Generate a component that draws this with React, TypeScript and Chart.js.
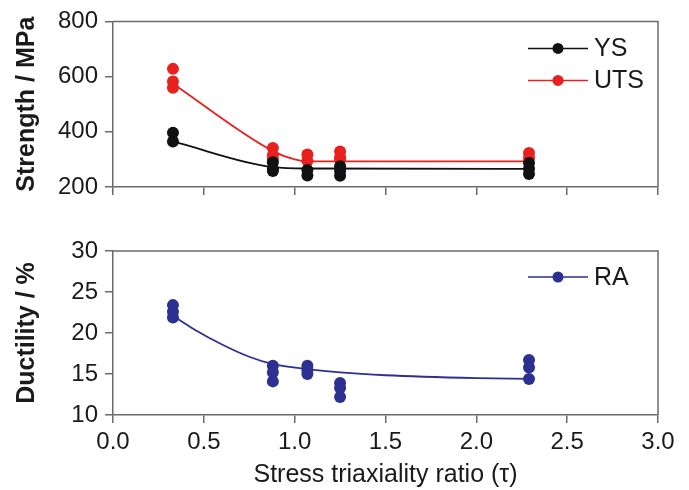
import React, { useEffect, useRef } from "react";
import { Chart, registerables } from "chart.js";

Chart.register(...registerables);

// ---- data ----
const tauGroups = [0.33, 0.88, 1.07, 1.25, 2.29];
const ysValues = [
  [397, 365],
  [290, 265, 258],
  [262, 242],
  [275, 258, 241],
  [287, 266, 247],
];
const utsValues = [
  [628, 582, 560],
  [341, 315, 300],
  [318, 294],
  [329, 308, 300],
  [323, 305],
];
const raValues = [
  [23.4, 22.6, 21.9],
  [16.0, 15.2, 14.1],
  [16.0, 15.5, 15.0],
  [13.9, 13.3, 12.2],
  [16.7, 15.8, 14.4],
];
const ysFitX = [0.33, 0.88, 1.07, 2.29];
const ysFitY = [365, 272, 267, 266];
const utsFitX = [0.33, 0.88, 1.0, 1.07, 2.29];
const utsFitY = [574, 330, 300, 293, 293];
const raFitX = [0.33, 0.45, 0.6, 0.75, 0.88, 1.07, 1.25, 1.5, 2.0, 2.29];
const raFitY = [22.1, 20.4, 18.6, 17.1, 16.2, 15.6, 15.2, 14.85, 14.5, 14.4];
const xTicks = [0, 0.5, 1.0, 1.5, 2.0, 2.5, 3.0];
const strengthTicks = [200, 400, 600, 800];
const ductilityTicks = [10, 15, 20, 25, 30];

const FONT = "'Liberation Sans', Arial, sans-serif";
const AXIS = "#6a6a6a";
const TEXT = "#1a1a1a";
const BLACK = "#111111";
const RED = "#e8211f";
const BLUE = "#2c3091";

function groupPoints(xs: number[], vals: number[][]) {
  const pts: { x: number; y: number }[] = [];
  xs.forEach((x, i) => vals[i].forEach((y) => pts.push({ x, y })));
  return pts;
}
function pairs(xs: number[], ys: number[]) {
  return xs.map((x, i) => ({ x, y: ys[i] }));
}

const framePlugin = {
  id: "frame",
  afterDraw(chart: any) {
    const { ctx, chartArea: a } = chart;
    ctx.save();
    ctx.strokeStyle = AXIS;
    ctx.lineWidth = 1.5;
    ctx.beginPath();
    ctx.moveTo(a.left, a.top);
    ctx.lineTo(a.right, a.top);
    ctx.lineTo(a.right, a.bottom);
    ctx.stroke();
    ctx.restore();
  },
};

function legendPlugin(items: { label: string; color: string }[], dy: number) {
  return {
    id: "customLegend",
    afterDraw(chart: any) {
      const { ctx, chartArea: a } = chart;
      ctx.save();
      items.forEach((it, i) => {
        const y = a.top + dy + i * 32;
        const x0 = a.right - 130;
        ctx.strokeStyle = it.color;
        ctx.lineWidth = 1.5;
        ctx.beginPath();
        ctx.moveTo(x0, y);
        ctx.lineTo(x0 + 60, y);
        ctx.stroke();
        ctx.fillStyle = it.color;
        ctx.beginPath();
        ctx.arc(x0 + 30, y, 5.5, 0, Math.PI * 2);
        ctx.fill();
        ctx.fillStyle = TEXT;
        ctx.font = `25px ${FONT}`;
        ctx.textBaseline = "middle";
        ctx.textAlign = "left";
        ctx.fillText(it.label, x0 + 66, y + 1);
      });
      ctx.restore();
    },
  };
}

function xScale(showLabels: boolean, height: number) {
  return {
    type: "linear",
    min: 0,
    max: 3,
    afterBuildTicks: (s: any) => {
      s.ticks = xTicks.map((v) => ({ value: v }));
    },
    ticks: {
      callback: (v: any) => (showLabels ? Number(v).toFixed(1) : ""),
      font: { family: FONT, size: 24 },
      color: TEXT,
      padding: 5,
      maxRotation: 0,
      autoSkip: false,
    },
    grid: { drawOnChartArea: false, drawTicks: true, tickLength: 8, color: AXIS, lineWidth: 1.5 },
    border: { display: true, color: AXIS, width: 1.5 },
    title: showLabels
      ? {
          display: true,
          text: "Stress triaxiality ratio (τ)",
          font: { family: FONT, size: 25 },
          color: TEXT,
          padding: { top: 0, bottom: 0 },
        }
      : { display: false },
    afterFit: (s: any) => {
      s.height = height;
    },
  };
}

function yScale(min: number, max: number, ticks: number[], title: string) {
  return {
    type: "linear",
    min,
    max,
    afterBuildTicks: (s: any) => {
      s.ticks = ticks.map((v) => ({ value: v }));
    },
    ticks: {
      font: { family: FONT, size: 24 },
      color: TEXT,
      padding: 7,
    },
    grid: { drawOnChartArea: false, drawTicks: true, tickLength: 8, color: AXIS, lineWidth: 1.5 },
    border: { display: true, color: AXIS, width: 1.5 },
    title: {
      display: true,
      text: title,
      font: { family: FONT, size: 25, weight: "bold" },
      color: TEXT,
      padding: { top: 12, bottom: 0 },
    },
    afterFit: (s: any) => {
      s.width = 113;
    },
  };
}

function scatterDs(label: string, data: any[], color: string) {
  return {
    type: "scatter",
    label,
    data,
    showLine: false,
    pointRadius: 6,
    pointBackgroundColor: color,
    pointBorderColor: color,
    pointBorderWidth: 0,
  };
}
function lineDs(label: string, data: any[], color: string) {
  return {
    type: "line",
    label,
    data,
    borderColor: color,
    borderWidth: 1.8,
    pointRadius: 0,
    cubicInterpolationMode: "monotone",
    fill: false,
  };
}

export default function App() {
  const topRef = useRef<HTMLCanvasElement>(null);
  const botRef = useRef<HTMLCanvasElement>(null);

  useEffect(() => {
    document.body.style.margin = "0";
    const common = {
      animation: false,
      responsive: false,
      plugins: { legend: { display: false }, tooltip: { enabled: false } },
      events: [],
    };
    const top = new Chart(topRef.current as HTMLCanvasElement, {
      type: "scatter",
      data: {
        datasets: [
          scatterDs("YS", groupPoints(tauGroups, ysValues), BLACK),
          lineDs("YS fit", pairs(ysFitX, ysFitY), BLACK),
          scatterDs("UTS", groupPoints(tauGroups, utsValues), RED),
          lineDs("UTS fit", pairs(utsFitX, utsFitY), RED),
        ] as any,
      },
      options: {
        ...common,
        layout: { padding: { top: 20, right: 31, left: 0, bottom: 0 } },
        scales: {
          x: xScale(false, 23),
          y: yScale(200, 800, strengthTicks, "Strength / MPa"),
        },
      } as any,
      plugins: [
        framePlugin,
        legendPlugin(
          [
            { label: "YS", color: BLACK },
            { label: "UTS", color: RED },
          ],
          27
        ),
      ],
    });
    const bot = new Chart(botRef.current as HTMLCanvasElement, {
      type: "scatter",
      data: {
        datasets: [
          scatterDs("RA", groupPoints(tauGroups, raValues), BLUE),
          lineDs("RA fit", pairs(raFitX, raFitY), BLUE),
        ] as any,
      },
      options: {
        ...common,
        layout: { padding: { top: 41, right: 31, left: 0, bottom: 0 } },
        scales: {
          x: xScale(true, 75),
          y: yScale(10, 30, ductilityTicks, "Ductility / %"),
        },
      } as any,
      plugins: [framePlugin, legendPlugin([{ label: "RA", color: BLUE }], 26)],
    });
    return () => {
      top.destroy();
      bot.destroy();
    };
  }, []);

  return (
    <div style={{ position: "absolute", left: 0, top: 0, width: 689, height: 490, background: "#fff" }}>
      <canvas ref={topRef} width={689} height={210} style={{ position: "absolute", left: 0, top: 0 }} />
      <canvas ref={botRef} width={689} height={280} style={{ position: "absolute", left: 0, top: 210 }} />
    </div>
  );
}
